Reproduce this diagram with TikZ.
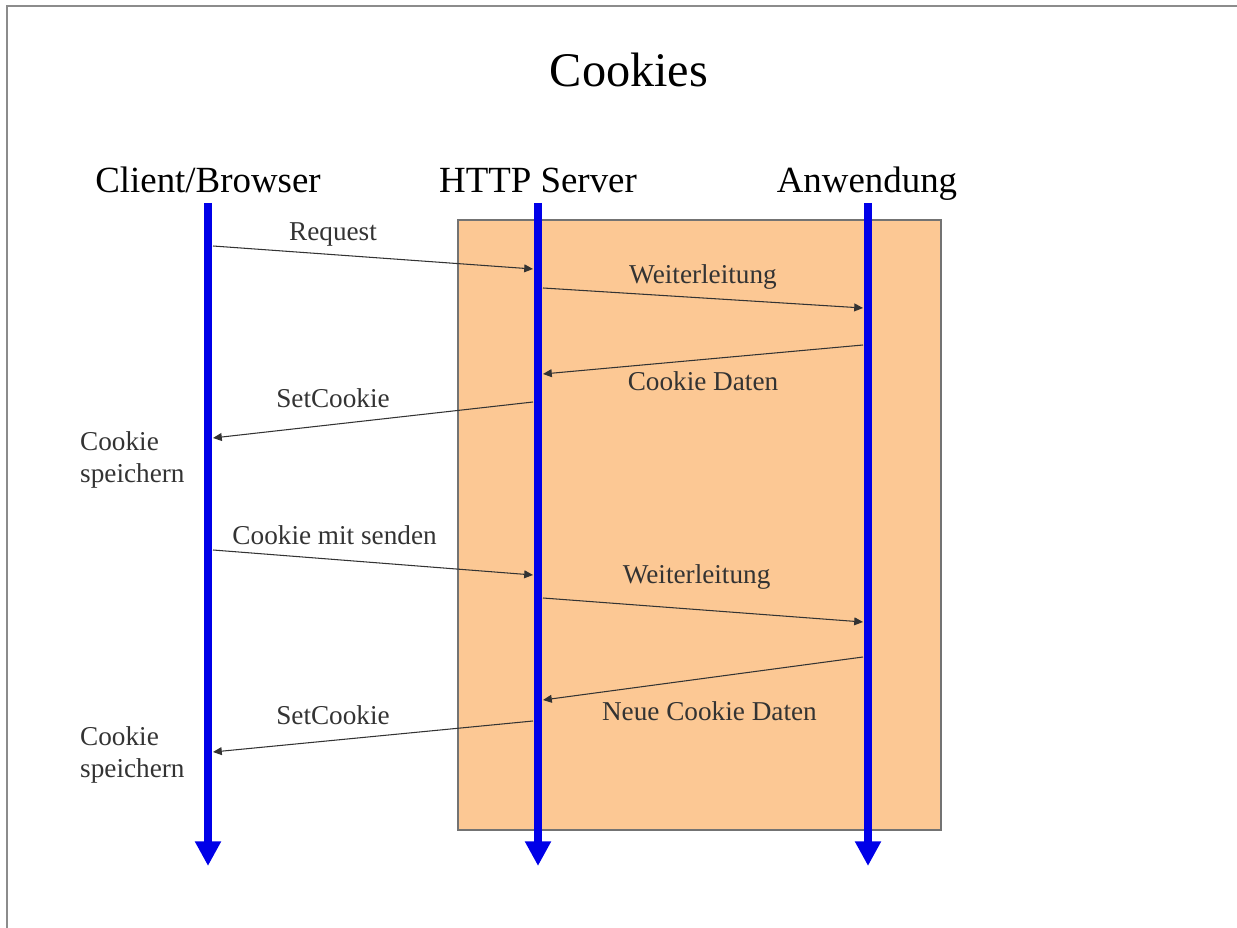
\documentclass[tikz,border=0pt]{standalone}
\usepackage{fontspec}
\setmainfont{Liberation Serif}
\usepackage{xcolor}
\usetikzlibrary{arrows.meta, positioning}

\definecolor{peach}{HTML}{FCC894}
\definecolor{lifeblue}{HTML}{0000E8}

\begin{document}
\begin{tikzpicture}[x=0.02cm, y=-0.02cm,
  title/.style={font=\fontsize{27.5}{32}\selectfont},
  head/.style={font=\fontsize{21}{25}\selectfont, anchor=base},
  msg/.style={font=\fontsize{15.5}{18.5}\selectfont, text=black!80},
  note/.style={font=\fontsize{15.5}{18.5}\selectfont, text=black!80, align=left},
  life/.style={line width=4.5pt, draw=lifeblue, -{Triangle[width=14pt, length=14pt, fill=lifeblue]}},
  call/.style={line width=0.6pt, draw=black!80, -{Triangle[width=4.5pt, length=5pt]}}
]
\useasboundingbox (0,0) rectangle (1237,928);

% ── Frame and server box ──
\draw[line width=1.4pt, draw=black!45] (7,928) -- (7,6) -- (1237,6);
\draw[fill=peach, draw=black!55, line width=0.6pt] (458,220) rectangle (941,830);

% ── Title and lifeline heads ──
\node[title] (ttl) at (629,70) {Cookies};
\node[head] (client) at (208,193) {Client/Browser};
\node[head] (server) at (538,193) {HTTP Server};
\node[head] (app)    at (867,193) {Anwendung};

% ── Lifelines ──
\coordinate (cTop) at (208,203); \coordinate (cEnd) at (208,866);
\coordinate (sTop) at (538,203); \coordinate (sEnd) at (538,866);
\coordinate (aTop) at (868,203); \coordinate (aEnd) at (868,866);
\draw[life] (cTop) -- (cEnd);
\draw[life] (sTop) -- (sEnd);
\draw[life] (aTop) -- (aEnd);

% ── Message end points ──
\coordinate (c1) at (213,246); \coordinate (s1) at (533,269);
\coordinate (s2) at (543,288); \coordinate (a2) at (863,308);
\coordinate (a3) at (863,345); \coordinate (s3) at (543,374);
\coordinate (s4) at (533,402); \coordinate (c4) at (213,438);
\coordinate (c5) at (213,550); \coordinate (s5) at (533,575);
\coordinate (s6) at (543,598); \coordinate (a6) at (863,622);
\coordinate (a7) at (863,657); \coordinate (s7) at (543,700);
\coordinate (s8) at (533,721); \coordinate (c8) at (213,752);

% ── Messages ──
\draw[call] (c1) -- node[msg, pos=0.375, above=1pt] {Request} (s1);
\draw[call] (s2) -- node[msg, pos=0.5, above=1pt] {Weiterleitung} (a2);
\draw[call] (a3) -- node[msg, pos=0.5, below=3pt] {Cookie Daten} (s3);
\draw[call] (s4) -- node[msg, pos=0.625, above=6pt] {SetCookie} (c4);
\draw[call] (c5) -- node[msg, pos=0.38, above=5pt] {Cookie mit senden} (s5);
\draw[call] (s6) -- node[msg, pos=0.48, above=8pt] {Weiterleitung} (a6);
\draw[call] (a7) -- node[msg, pos=0.48, below=10pt] {Neue Cookie Daten} (s7);
\draw[call] (s8) -- node[msg, pos=0.625, above=5pt] {SetCookie} (c8);

% ── Client notes ──
\node[note, anchor=west] (store1) at (74,460) {Cookie\\speichern};
\node[note, anchor=west] (store2) at (74,755) {Cookie\\speichern};
\end{tikzpicture}
\end{document}
